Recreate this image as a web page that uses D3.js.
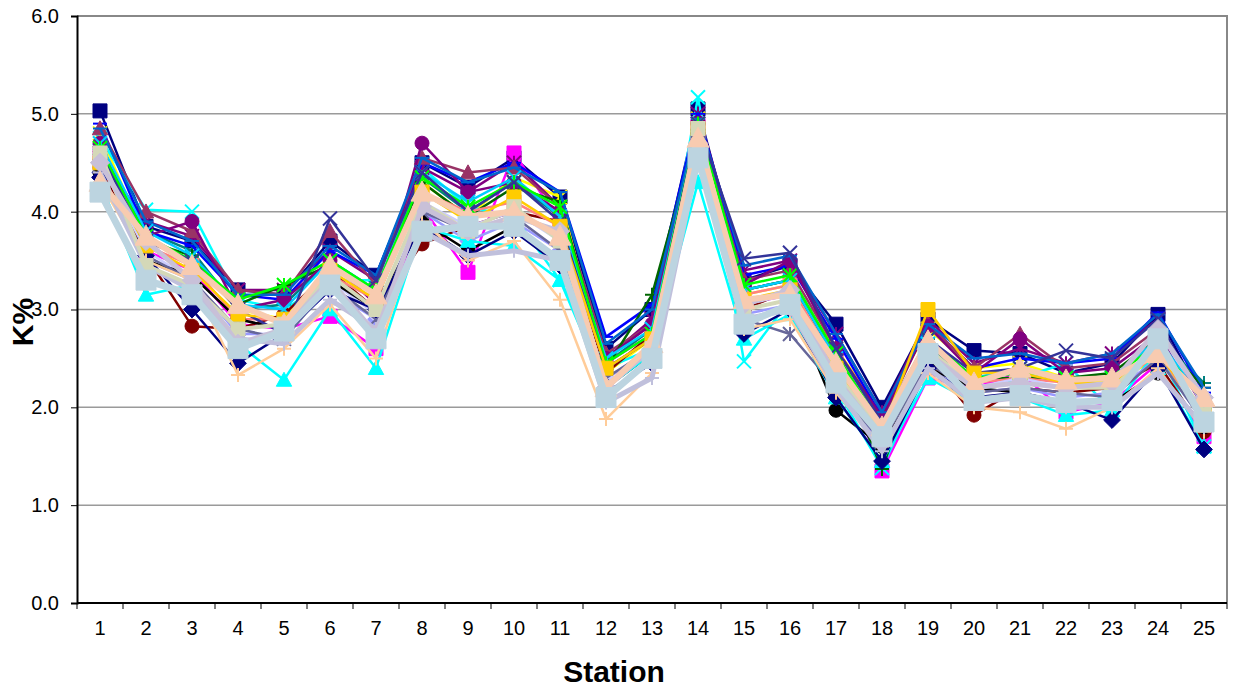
<!DOCTYPE html>
<html>
<head>
<meta charset="utf-8">
<script src="https://cdn.jsdelivr.net/npm/d3@7"></script>
<style>
  body { margin: 0; background: #fff; }
  text { font-family: Arial, "Liberation Sans", sans-serif; }
</style>
</head>
<body>
<script>
// K% per station, one array per sample series
const stations = [1,2,3,4,5,6,7,8,9,10,11,12,13,14,15,16,17,18,19,20,21,22,23,24,25];
const yTicks = [0,1,2,3,4,5,6];

const k01 = [5.03,3.85,3.70,3.20,3.15,3.70,3.35,4.50,4.25,4.55,4.15,2.60,3.00,5.05,3.30,3.45,2.85,2.00,2.90,2.58,2.55,2.35,2.45,2.95,2.05];
const k02 = [4.60,3.60,3.40,2.85,2.80,2.93,2.60,4.05,3.38,4.60,3.90,2.45,2.75,4.90,3.05,3.15,2.50,1.35,2.30,2.20,2.35,1.95,2.05,2.45,1.70];
const k03 = [4.80,3.70,3.50,3.00,2.90,3.45,3.20,4.30,3.95,4.35,4.15,2.35,2.70,4.95,3.15,3.25,2.60,1.95,2.80,2.40,2.45,2.30,2.25,2.50,1.95];
const k04 = [4.75,4.02,4.00,3.10,3.00,3.30,3.30,4.45,4.05,3.95,3.30,2.40,2.60,5.17,2.47,3.10,2.20,1.38,2.40,2.15,2.30,2.45,1.97,2.60,1.60];
const k05 = [4.55,3.90,3.75,3.20,3.20,3.60,3.30,4.45,4.20,4.50,4.05,2.50,2.90,5.00,3.40,3.50,2.75,1.95,2.90,2.45,2.60,2.45,2.55,2.90,2.00];
const k06 = [4.45,3.55,2.83,2.80,2.95,3.40,3.00,3.67,3.85,4.00,3.90,2.35,2.75,4.90,3.00,3.20,2.35,1.75,2.50,1.92,2.20,2.15,2.20,2.45,1.75];
const k07 = [4.60,3.80,3.60,3.00,3.05,3.50,3.20,4.35,4.00,4.30,3.95,2.45,2.80,4.95,3.20,3.30,2.50,1.80,2.60,2.30,2.35,2.25,2.30,2.70,2.25];
const k08 = [4.90,3.80,3.65,3.15,3.10,3.60,3.35,4.50,4.30,4.50,4.20,2.72,3.05,5.00,3.35,3.45,2.70,1.90,2.85,2.40,2.50,2.45,2.50,2.97,2.15];
const k09 = [4.40,3.50,3.30,2.75,2.75,3.20,2.90,4.00,3.70,3.90,3.60,2.30,2.55,4.60,2.95,3.05,2.20,1.60,2.40,2.15,2.20,2.10,2.15,2.50,1.85];
const k10 = [4.85,4.00,3.80,3.20,3.15,3.80,3.25,4.55,4.40,4.45,4.05,2.55,2.85,4.90,3.30,3.40,2.60,1.85,2.85,2.40,2.75,2.40,2.45,2.80,2.10];
const k11 = [4.50,3.70,3.55,3.05,3.25,3.45,3.15,4.30,3.95,4.25,4.10,2.40,3.15,4.85,3.20,3.30,2.50,1.37,2.70,2.30,2.30,2.30,2.35,2.70,2.20];
const k12 = [4.70,3.75,3.90,3.00,3.10,3.50,3.05,4.70,4.20,4.30,4.00,2.50,2.85,4.90,3.25,3.50,2.60,1.90,2.83,2.35,2.70,2.35,2.40,2.75,2.00];
const k13 = [4.50,3.65,3.45,2.90,2.90,3.35,3.10,4.20,4.00,4.10,3.85,2.40,2.70,4.80,3.15,3.25,2.45,1.80,2.55,2.25,2.30,2.25,2.20,2.55,1.90];
const k14 = [4.85,3.90,3.70,3.15,3.15,3.65,3.35,4.55,4.30,4.45,4.20,2.65,3.00,4.95,3.45,3.55,2.75,1.95,2.85,2.50,2.55,2.45,2.55,2.95,2.20];
const k15 = [4.50,3.60,3.30,2.80,2.85,3.30,2.95,4.10,3.85,4.00,3.70,2.30,2.60,4.70,3.05,3.15,2.30,1.70,2.50,2.20,2.30,2.20,2.20,2.80,2.00];
const k16 = [4.70,3.80,3.55,3.05,3.00,3.50,3.20,4.40,4.10,4.35,3.95,2.50,2.80,4.90,3.20,3.30,2.50,1.80,2.65,2.30,2.40,2.30,2.30,2.70,2.05];
const k17 = [4.65,3.75,3.50,3.10,3.25,3.50,3.20,4.35,4.05,4.30,4.05,2.45,2.75,4.90,3.25,3.35,2.55,1.80,2.70,2.30,2.35,2.30,2.30,2.65,2.05];
const k18 = [4.40,3.50,3.35,2.90,2.80,3.30,3.00,3.90,3.60,3.85,3.50,2.20,2.55,4.80,3.00,3.10,1.97,1.60,2.40,2.20,2.15,2.05,2.05,2.35,1.80];
const k19 = [4.60,3.70,3.50,3.00,2.75,3.93,3.30,4.40,4.00,4.30,3.90,2.40,2.70,4.90,3.52,3.58,2.60,1.85,2.70,2.35,2.40,2.58,2.50,2.90,2.00];
const k20 = [4.35,3.55,3.30,2.80,2.70,3.25,2.90,4.00,3.80,3.95,3.60,2.30,2.60,4.70,2.90,2.75,2.20,1.65,2.45,2.15,2.20,2.15,2.10,2.50,1.85];
const k21 = [4.30,3.15,3.25,2.65,2.28,3.00,2.40,3.85,3.70,3.65,3.30,2.20,2.55,4.30,2.70,2.95,2.10,1.45,2.30,2.05,2.10,1.92,1.97,2.40,1.60];
const k22 = [4.35,3.55,3.00,2.45,2.75,3.20,3.00,3.85,3.55,3.80,3.45,2.15,2.45,4.60,2.75,3.00,2.10,1.45,2.40,2.10,2.15,2.05,1.87,2.40,1.57];
const k23 = [4.50,3.65,3.40,2.95,2.90,3.40,3.10,4.20,3.90,4.15,3.85,2.40,2.70,4.85,3.10,3.20,2.40,1.75,3.00,2.35,2.35,2.25,2.25,2.55,1.95];
const k24 = [4.30,3.50,3.30,2.33,2.60,3.05,2.50,3.90,3.50,3.70,3.10,1.88,2.35,4.50,2.80,2.90,2.15,1.60,2.35,2.00,1.95,1.78,2.00,2.40,1.75];
const k25 = [4.40,3.45,3.20,2.70,2.65,3.10,2.80,3.80,3.55,3.60,3.50,2.05,2.30,4.55,2.90,3.00,2.20,1.55,2.40,2.05,2.10,2.00,2.00,2.35,1.80];
const k26 = [4.60,3.45,3.25,2.80,2.85,3.35,3.00,4.10,3.80,4.05,3.70,2.20,2.60,4.85,3.00,3.10,2.35,1.75,2.60,2.20,2.25,2.20,2.20,2.60,1.95];
const k27 = [4.50,3.70,3.30,2.65,2.80,3.30,2.75,4.05,3.80,3.95,3.80,2.20,2.60,4.70,3.05,3.20,2.30,1.70,2.55,2.20,2.25,2.20,2.25,2.80,2.10];
const k28 = [4.30,3.75,3.45,3.05,2.85,3.45,3.15,4.20,3.95,4.00,3.75,2.20,2.65,4.75,3.10,3.15,2.45,1.80,2.68,2.25,2.40,2.28,2.30,2.55,2.10];
const k29 = [4.20,3.30,3.15,2.60,2.78,3.25,2.70,3.80,3.85,3.85,3.50,2.10,2.50,4.55,2.85,3.05,2.25,1.70,2.55,2.07,2.12,2.05,2.07,2.70,1.85];

// styles (Excel-like automatic colours / markers)
const series = [
  {v: k01, c: "#000080", m: "square"},
  {v: k02, c: "#FF00FF", m: "square"},
  {v: k03, c: "#FFFF00", m: "x"},
  {v: k04, c: "#00FFFF", m: "x"},
  {v: k05, c: "#800080", m: "star"},
  {v: k06, c: "#800000", m: "circle"},
  {v: k07, c: "#008080", m: "plus"},
  {v: k08, c: "#0000FF", m: "dash"},
  {v: k09, c: "#9999FF", m: "diamond"},
  {v: k10, c: "#993366", m: "triangle"},
  {v: k11, c: "#006600", m: "plus"},
  {v: k12, c: "#800080", m: "circle"},
  {v: k13, c: "#FF8080", m: "square"},
  {v: k14, c: "#0066CC", m: "dash"},
  {v: k15, c: "#CCCCFF", m: "diamond"},
  {v: k16, c: "#00CCFF", m: "x"},
  {v: k17, c: "#00FF00", m: "star"},
  {v: k18, c: "#000000", m: "circle"},
  {v: k19, c: "#333399", m: "x"},
  {v: k20, c: "#666699", m: "star"},
  {v: k21, c: "#00FFFF", m: "triangle"},
  {v: k22, c: "#000080", m: "diamond"},
  {v: k23, c: "#FFCC00", m: "square"},
  {v: k24, c: "#FFCC99", m: "plus"},
  {v: k25, c: "#C0C0DC", m: "plus", w: 5},
  {v: k26, c: "#D4D8B8", m: "square", w: 4},
  {v: k27, c: "#C8C0D8", m: "diamond", w: 5, s: 16},
  {v: k28, c: "#F8CBB0", m: "triangle", w: 6, s: 20},
  {v: k29, c: "#BCD4E0", m: "square", w: 7, s: 20}
];

const W = 1234, H = 691;
const plotL = 77, plotR = 1227, plotT = 16, plotB = 603;

const svg = d3.select("body").append("svg")
  .attr("width", W).attr("height", H);

const x = d3.scaleBand().domain(stations).range([plotL, plotR]);
const y = d3.scaleLinear().domain([0, 6]).range([plotB, plotT]);
const cx = d => x(d) + x.bandwidth() / 2;

// gridlines
svg.append("g").selectAll("line")
  .data(yTicks.slice(1))
  .enter().append("line")
    .attr("x1", plotL).attr("x2", plotR)
    .attr("y1", d => y(d)).attr("y2", d => y(d))
    .attr("stroke", "#9a9a9a").attr("stroke-width", 1.5);

// plot border (top / right)
svg.append("path")
  .attr("d", `M${plotL},${plotT}H${plotR}V${plotB}`)
  .attr("fill", "none").attr("stroke", "#888").attr("stroke-width", 2);

// y axis
const yAxis = svg.append("g")
  .attr("transform", `translate(${plotL},0)`)
  .call(d3.axisLeft(y).tickValues(yTicks).tickFormat(d3.format(".1f")).tickSize(6).tickPadding(12));
yAxis.select(".domain").attr("stroke", "#000").attr("stroke-width", 2);
yAxis.selectAll(".tick line").attr("stroke", "#000").attr("stroke-width", 1);
yAxis.selectAll("text").attr("font-size", 20).attr("fill", "#000")
  .style("font-family", "Arial, 'Liberation Sans', sans-serif");

// x axis: labels centred in band, ticks on band edges
const xAxis = svg.append("g")
  .attr("transform", `translate(0,${plotB})`)
  .call(d3.axisBottom(x).tickSize(0).tickPadding(18));
xAxis.select(".domain").remove();
xAxis.selectAll("text").attr("font-size", 20).attr("fill", "#000")
  .style("font-family", "Arial, 'Liberation Sans', sans-serif");

svg.append("line")
  .attr("x1", plotL).attr("x2", plotR).attr("y1", plotB).attr("y2", plotB)
  .attr("stroke", "#000").attr("stroke-width", 2);
svg.append("g").selectAll("line")
  .data(stations.concat(["end"]))
  .enter().append("line")
    .attr("x1", d => d === "end" ? plotR : x(d))
    .attr("x2", d => d === "end" ? plotR : x(d))
    .attr("y1", plotB).attr("y2", plotB + 6)
    .attr("stroke", "#000");

// axis titles
svg.append("text")
  .attr("x", 614).attr("y", 682)
  .attr("text-anchor", "middle")
  .attr("font-size", 30).attr("font-weight", "bold")
  .text("Station");

svg.append("text")
  .attr("transform", "translate(33,322) rotate(-90)")
  .attr("text-anchor", "middle")
  .attr("font-size", 30).attr("font-weight", "bold")
  .text("K%");

// marker shapes
function markerPath(type, s) {
  const h = s / 2;
  switch (type) {
    case "square": return `M${-h},${-h}h${s}v${s}h${-s}Z`;
    case "diamond": return `M0,${-h * 1.2}L${h * 1.2},0L0,${h * 1.2}L${-h * 1.2},0Z`;
    case "triangle": return `M0,${-h * 1.1}L${h * 1.1},${h * 0.9}L${-h * 1.1},${h * 0.9}Z`;
    case "circle": return `M${-h},0a${h},${h} 0 1,0 ${s},0a${h},${h} 0 1,0 ${-s},0Z`;
    case "x": return `M${-h},${-h}L${h},${h}M${-h},${h}L${h},${-h}`;
    case "star": return `M${-h},${-h}L${h},${h}M${-h},${h}L${h},${-h}M0,${-h}V${h}`;
    case "plus": return `M${-h},0H${h}M0,${-h}V${h}`;
    case "dash": return `M${-h},0H${h}`;
  }
}
const stroked = new Set(["x", "star", "plus", "dash"]);

const line = d3.line()
  .x((d, i) => cx(stations[i]))
  .y(d => y(d));

const plot = svg.append("g");
series.forEach(s => {
  const g = plot.append("g");
  g.append("path")
    .attr("d", line(s.v))
    .attr("fill", "none")
    .attr("stroke", s.c)
    .attr("stroke-width", s.w || 2.5)
    .attr("stroke-linejoin", "round");

  const size = s.s || 14;
  g.selectAll("path.mk")
    .data(s.v)
    .enter().append("path")
      .attr("class", "mk")
      .attr("transform", (d, i) => `translate(${cx(stations[i])},${y(d)})`)
      .attr("d", markerPath(s.m, size))
      .attr("fill", stroked.has(s.m) ? "none" : s.c)
      .attr("stroke", s.c)
      .attr("stroke-width", stroked.has(s.m) ? 2 : 1);
});
</script>
</body>
</html>
